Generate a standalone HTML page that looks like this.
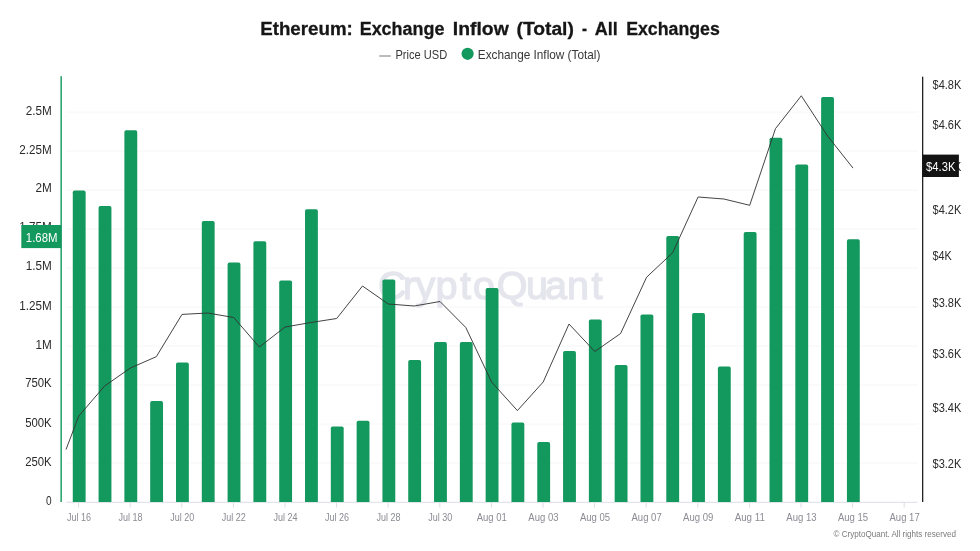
<!DOCTYPE html>
<html lang="en">
<head>
<meta charset="utf-8">
<title>Ethereum: Exchange Inflow (Total) - All Exchanges</title>
<style>
html,body{margin:0;padding:0;background:#fff;}
body{width:980px;height:551px;overflow:hidden;font-family:"Liberation Sans",sans-serif;}
svg{display:block;}
text{font-family:"Liberation Sans",sans-serif;}
.yl{font-size:12.3px;fill:#2a2a2a;text-anchor:end;}
.yr{font-size:12.3px;fill:#2a2a2a;text-anchor:start;}
.xl{font-size:10px;fill:#8b8b94;text-anchor:middle;}
.lg{font-size:12.4px;fill:#383838;}
.ttl{font-size:19.1px;font-weight:bold;fill:#161616;stroke:#161616;stroke-width:0.3px;}
</style>
</head>
<body>
<svg width="980" height="551" viewBox="0 0 980 551">
<rect x="0" y="0" width="980" height="551" fill="#ffffff"/>

<g class="ttl">
<text x="260.2" y="34.8" textLength="92.6" lengthAdjust="spacingAndGlyphs">Ethereum:</text>
<text x="359.7" y="34.8" textLength="84.7" lengthAdjust="spacingAndGlyphs">Exchange</text>
<text x="452.8" y="34.8" textLength="55.9" lengthAdjust="spacingAndGlyphs">Inflow</text>
<text x="516.5" y="34.8" textLength="57.4" lengthAdjust="spacingAndGlyphs">(Total)</text>
<text x="582" y="34.8" textLength="5.0" lengthAdjust="spacingAndGlyphs">-</text>
<text x="594.8" y="34.8" textLength="23.0" lengthAdjust="spacingAndGlyphs">All</text>
<text x="626.2" y="34.8" textLength="93.6" lengthAdjust="spacingAndGlyphs">Exchanges</text>
</g>
<line x1="379.3" y1="56" x2="390.8" y2="56" stroke="#555" stroke-width="0.8"/>
<text class="lg" x="395.4" y="59.4" textLength="51.8" lengthAdjust="spacingAndGlyphs">Price USD</text>
<circle cx="467.6" cy="53.8" r="6.1" fill="#13985e"/>
<text class="lg" x="477.8" y="59.4" textLength="122.6" lengthAdjust="spacingAndGlyphs">Exchange Inflow (Total)</text>
<g stroke="#f8f8fa" stroke-width="1.1">
<line x1="66.3" y1="463.10" x2="918" y2="463.10"/>
<line x1="66.3" y1="424.10" x2="918" y2="424.10"/>
<line x1="66.3" y1="385.10" x2="918" y2="385.10"/>
<line x1="66.3" y1="346.10" x2="918" y2="346.10"/>
<line x1="66.3" y1="307.10" x2="918" y2="307.10"/>
<line x1="66.3" y1="268.10" x2="918" y2="268.10"/>
<line x1="66.3" y1="229.10" x2="918" y2="229.10"/>
<line x1="66.3" y1="190.10" x2="918" y2="190.10"/>
<line x1="66.3" y1="151.10" x2="918" y2="151.10"/>
<line x1="66.3" y1="112.10" x2="918" y2="112.10"/>
</g>
<text x="378 402.9 415.4 435.4 460.0 473.1 496.7 526.1 545.0 567.1 591.6" y="299" font-size="39.5" fill="#e5e5ed" stroke="#e5e5ed" stroke-width="1.3" stroke-linejoin="round">CryptoQuant</text>
<line x1="66.3" y1="502.3" x2="917.2" y2="502.3" stroke="#dcdce8" stroke-width="1"/>
<g stroke="#dcdce8" stroke-width="1">
<line x1="78.60" y1="502.3" x2="78.60" y2="507.5"/>
<line x1="130.20" y1="502.3" x2="130.20" y2="507.5"/>
<line x1="181.80" y1="502.3" x2="181.80" y2="507.5"/>
<line x1="233.40" y1="502.3" x2="233.40" y2="507.5"/>
<line x1="285.00" y1="502.3" x2="285.00" y2="507.5"/>
<line x1="336.60" y1="502.3" x2="336.60" y2="507.5"/>
<line x1="388.20" y1="502.3" x2="388.20" y2="507.5"/>
<line x1="439.80" y1="502.3" x2="439.80" y2="507.5"/>
<line x1="491.40" y1="502.3" x2="491.40" y2="507.5"/>
<line x1="543.00" y1="502.3" x2="543.00" y2="507.5"/>
<line x1="594.60" y1="502.3" x2="594.60" y2="507.5"/>
<line x1="646.20" y1="502.3" x2="646.20" y2="507.5"/>
<line x1="697.80" y1="502.3" x2="697.80" y2="507.5"/>
<line x1="749.40" y1="502.3" x2="749.40" y2="507.5"/>
<line x1="801.00" y1="502.3" x2="801.00" y2="507.5"/>
<line x1="852.60" y1="502.3" x2="852.60" y2="507.5"/>
<line x1="904.20" y1="502.3" x2="904.20" y2="507.5"/>
</g>
<g fill="#13985e">
<path d="M72.78 502.0 V192.30 Q72.78 190.50 74.58 190.50 H83.83 Q85.62 190.50 85.62 192.30 V502.0 Z"/>
<path d="M98.58 502.0 V207.80 Q98.58 206.00 100.38 206.00 H109.63 Q111.43 206.00 111.43 207.80 V502.0 Z"/>
<path d="M124.39 502.0 V132.00 Q124.39 130.20 126.19 130.20 H135.44 Q137.24 130.20 137.24 132.00 V502.0 Z"/>
<path d="M150.19 502.0 V402.90 Q150.19 401.10 151.99 401.10 H161.24 Q163.04 401.10 163.04 402.90 V502.0 Z"/>
<path d="M176.00 502.0 V364.40 Q176.00 362.60 177.80 362.60 H187.04 Q188.84 362.60 188.84 364.40 V502.0 Z"/>
<path d="M201.80 502.0 V222.70 Q201.80 220.90 203.60 220.90 H212.85 Q214.65 220.90 214.65 222.70 V502.0 Z"/>
<path d="M227.60 502.0 V264.40 Q227.60 262.60 229.40 262.60 H238.65 Q240.45 262.60 240.45 264.40 V502.0 Z"/>
<path d="M253.41 502.0 V243.10 Q253.41 241.30 255.21 241.30 H264.46 Q266.26 241.30 266.26 243.10 V502.0 Z"/>
<path d="M279.21 502.0 V282.20 Q279.21 280.40 281.01 280.40 H290.26 Q292.06 280.40 292.06 282.20 V502.0 Z"/>
<path d="M305.02 502.0 V211.10 Q305.02 209.30 306.82 209.30 H316.07 Q317.87 209.30 317.87 211.10 V502.0 Z"/>
<path d="M330.82 502.0 V428.20 Q330.82 426.40 332.62 426.40 H341.88 Q343.68 426.40 343.68 428.20 V502.0 Z"/>
<path d="M356.63 502.0 V422.50 Q356.63 420.70 358.43 420.70 H367.68 Q369.48 420.70 369.48 422.50 V502.0 Z"/>
<path d="M382.43 502.0 V281.20 Q382.43 279.40 384.23 279.40 H393.48 Q395.28 279.40 395.28 281.20 V502.0 Z"/>
<path d="M408.24 502.0 V361.80 Q408.24 360.00 410.04 360.00 H419.29 Q421.09 360.00 421.09 361.80 V502.0 Z"/>
<path d="M434.04 502.0 V343.90 Q434.04 342.10 435.84 342.10 H445.09 Q446.89 342.10 446.89 343.90 V502.0 Z"/>
<path d="M459.85 502.0 V343.90 Q459.85 342.10 461.65 342.10 H470.90 Q472.70 342.10 472.70 343.90 V502.0 Z"/>
<path d="M485.65 502.0 V289.90 Q485.65 288.10 487.45 288.10 H496.70 Q498.50 288.10 498.50 289.90 V502.0 Z"/>
<path d="M511.46 502.0 V424.30 Q511.46 422.50 513.26 422.50 H522.51 Q524.31 422.50 524.31 424.30 V502.0 Z"/>
<path d="M537.27 502.0 V443.80 Q537.27 442.00 539.07 442.00 H548.32 Q550.12 442.00 550.12 443.80 V502.0 Z"/>
<path d="M563.07 502.0 V352.80 Q563.07 351.00 564.87 351.00 H574.12 Q575.92 351.00 575.92 352.80 V502.0 Z"/>
<path d="M588.88 502.0 V321.30 Q588.88 319.50 590.68 319.50 H599.93 Q601.73 319.50 601.73 321.30 V502.0 Z"/>
<path d="M614.68 502.0 V366.80 Q614.68 365.00 616.48 365.00 H625.73 Q627.53 365.00 627.53 366.80 V502.0 Z"/>
<path d="M640.49 502.0 V316.30 Q640.49 314.50 642.29 314.50 H651.54 Q653.34 314.50 653.34 316.30 V502.0 Z"/>
<path d="M666.29 502.0 V237.80 Q666.29 236.00 668.09 236.00 H677.34 Q679.14 236.00 679.14 237.80 V502.0 Z"/>
<path d="M692.10 502.0 V314.80 Q692.10 313.00 693.89 313.00 H703.15 Q704.95 313.00 704.95 314.80 V502.0 Z"/>
<path d="M717.90 502.0 V368.30 Q717.90 366.50 719.70 366.50 H728.95 Q730.75 366.50 730.75 368.30 V502.0 Z"/>
<path d="M743.71 502.0 V233.80 Q743.71 232.00 745.50 232.00 H754.76 Q756.56 232.00 756.56 233.80 V502.0 Z"/>
<path d="M769.51 502.0 V139.60 Q769.51 137.80 771.31 137.80 H780.56 Q782.36 137.80 782.36 139.60 V502.0 Z"/>
<path d="M795.32 502.0 V166.30 Q795.32 164.50 797.12 164.50 H806.37 Q808.17 164.50 808.17 166.30 V502.0 Z"/>
<path d="M821.12 502.0 V98.80 Q821.12 97.00 822.92 97.00 H832.17 Q833.97 97.00 833.97 98.80 V502.0 Z"/>
<path d="M846.93 502.0 V241.00 Q846.93 239.20 848.73 239.20 H857.98 Q859.78 239.20 859.78 241.00 V502.0 Z"/>
</g>
<polyline points="66.0,449.5 78.8,416.0 104.6,386.0 130.4,368.0 156.3,356.7 182.0,314.4 207.7,313.0 233.7,317.5 259.3,347.0 285.1,327.0 310.9,322.5 336.7,318.5 362.5,286.0 388.3,304.0 414.2,306.0 440.0,301.5 465.8,327.5 491.6,382.0 517.4,410.6 543.2,382.0 569.0,324.0 594.8,351.5 620.6,333.5 646.6,277.2 672.6,252.8 698.1,197.0 723.9,199.0 749.7,205.3 775.5,128.6 801.3,95.8 827.6,136.0 853.0,168.1" fill="none" stroke="#333333" stroke-width="0.92" stroke-linejoin="round"/>
<rect x="60.45" y="76.2" width="1.4" height="425.8" fill="#13985e"/>
<rect x="922.0" y="76.7" width="1.3" height="425.3" fill="#222"/>
<clipPath id="c175"><rect x="0" y="200" width="60" height="25"/></clipPath>
<text class="yl" x="51.7" y="505.20" textLength="5.6" lengthAdjust="spacingAndGlyphs">0</text>
<text class="yl" x="51.7" y="465.70" textLength="26.5" lengthAdjust="spacingAndGlyphs">250K</text>
<text class="yl" x="51.7" y="426.60" textLength="26.5" lengthAdjust="spacingAndGlyphs">500K</text>
<text class="yl" x="51.7" y="387.20" textLength="26.5" lengthAdjust="spacingAndGlyphs">750K</text>
<text class="yl" x="51.7" y="348.80" textLength="16.3" lengthAdjust="spacingAndGlyphs">1M</text>
<text class="yl" x="51.7" y="309.50" textLength="32.4" lengthAdjust="spacingAndGlyphs">1.25M</text>
<text class="yl" x="51.7" y="270.30" textLength="26" lengthAdjust="spacingAndGlyphs">1.5M</text>
<text class="yl" clip-path="url(#c175)" x="51.7" y="231.30" textLength="32.4" lengthAdjust="spacingAndGlyphs">1.75M</text>
<text class="yl" x="51.7" y="192.00" textLength="16.3" lengthAdjust="spacingAndGlyphs">2M</text>
<text class="yl" x="51.7" y="153.80" textLength="32.4" lengthAdjust="spacingAndGlyphs">2.25M</text>
<text class="yl" x="51.7" y="114.80" textLength="26" lengthAdjust="spacingAndGlyphs">2.5M</text>
<rect x="21.3" y="225" width="40" height="23.1" fill="#13985e"/>
<text x="25.8" y="241.5" font-size="12" fill="#fff" textLength="31.7" lengthAdjust="spacingAndGlyphs">1.68M</text>
<text class="yr" x="932.5" y="89.10" textLength="28.8" lengthAdjust="spacingAndGlyphs">$4.8K</text>
<text class="yr" x="932.5" y="128.70" textLength="28.8" lengthAdjust="spacingAndGlyphs">$4.6K</text>
<text class="yr" x="932.5" y="171.10" textLength="28.8" lengthAdjust="spacingAndGlyphs">$4.4K</text>
<text class="yr" x="932.5" y="213.80" textLength="28.8" lengthAdjust="spacingAndGlyphs">$4.2K</text>
<text class="yr" x="932.5" y="259.70" textLength="19.3" lengthAdjust="spacingAndGlyphs">$4K</text>
<text class="yr" x="932.5" y="307.10" textLength="28.8" lengthAdjust="spacingAndGlyphs">$3.8K</text>
<text class="yr" x="932.5" y="357.70" textLength="28.8" lengthAdjust="spacingAndGlyphs">$3.6K</text>
<text class="yr" x="932.5" y="411.50" textLength="28.8" lengthAdjust="spacingAndGlyphs">$3.4K</text>
<text class="yr" x="932.5" y="467.60" textLength="28.8" lengthAdjust="spacingAndGlyphs">$3.2K</text>
<rect x="922.3" y="154.6" width="36.6" height="22.4" fill="#131313"/>
<text x="926" y="171.1" font-size="12" fill="#fff" textLength="29.4" lengthAdjust="spacingAndGlyphs">$4.3K</text>
<text class="xl" x="79.00" y="520.9" textLength="24" lengthAdjust="spacingAndGlyphs">Jul 16</text>
<text class="xl" x="130.60" y="520.9" textLength="24" lengthAdjust="spacingAndGlyphs">Jul 18</text>
<text class="xl" x="182.20" y="520.9" textLength="24" lengthAdjust="spacingAndGlyphs">Jul 20</text>
<text class="xl" x="233.80" y="520.9" textLength="24" lengthAdjust="spacingAndGlyphs">Jul 22</text>
<text class="xl" x="285.40" y="520.9" textLength="24" lengthAdjust="spacingAndGlyphs">Jul 24</text>
<text class="xl" x="337.00" y="520.9" textLength="24" lengthAdjust="spacingAndGlyphs">Jul 26</text>
<text class="xl" x="388.60" y="520.9" textLength="24" lengthAdjust="spacingAndGlyphs">Jul 28</text>
<text class="xl" x="440.20" y="520.9" textLength="24" lengthAdjust="spacingAndGlyphs">Jul 30</text>
<text class="xl" x="491.80" y="520.9" textLength="30.2" lengthAdjust="spacingAndGlyphs">Aug 01</text>
<text class="xl" x="543.40" y="520.9" textLength="30.2" lengthAdjust="spacingAndGlyphs">Aug 03</text>
<text class="xl" x="595.00" y="520.9" textLength="30.2" lengthAdjust="spacingAndGlyphs">Aug 05</text>
<text class="xl" x="646.60" y="520.9" textLength="30.2" lengthAdjust="spacingAndGlyphs">Aug 07</text>
<text class="xl" x="698.20" y="520.9" textLength="30.2" lengthAdjust="spacingAndGlyphs">Aug 09</text>
<text class="xl" x="749.80" y="520.9" textLength="30.2" lengthAdjust="spacingAndGlyphs">Aug 11</text>
<text class="xl" x="801.40" y="520.9" textLength="30.2" lengthAdjust="spacingAndGlyphs">Aug 13</text>
<text class="xl" x="853.00" y="520.9" textLength="30.2" lengthAdjust="spacingAndGlyphs">Aug 15</text>
<text class="xl" x="904.60" y="520.9" textLength="30.2" lengthAdjust="spacingAndGlyphs">Aug 17</text>
<text x="833.5" y="537.4" font-size="9" fill="#7a7a7a" textLength="122.4" lengthAdjust="spacingAndGlyphs">© CryptoQuant. All rights reserved</text>
</svg>
</body>
</html>
